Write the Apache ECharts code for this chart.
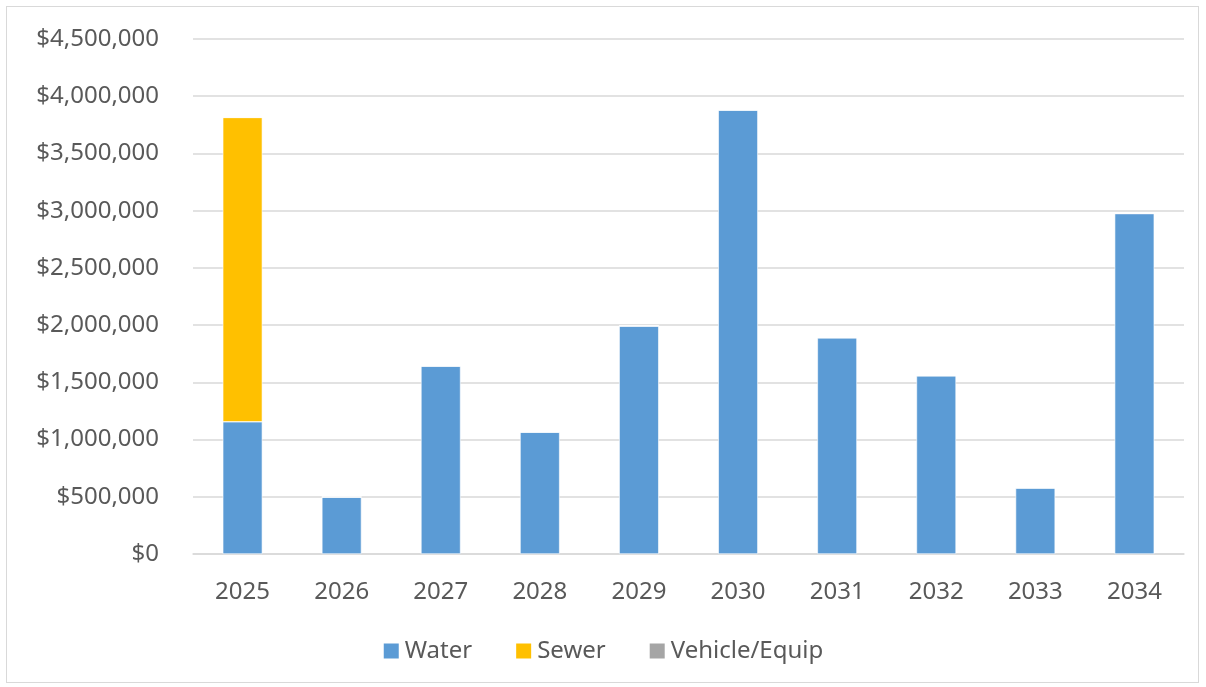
<!DOCTYPE html>
<html lang="en">
  <head>
    <meta charset="UTF-8" />
    <title>Capital Plan by Year</title>
    <style>
      html, body { margin: 0; padding: 0; background: #fff; }
      #main {
        position: absolute;
        left: 6px;
        top: 6px;
        width: 1193px;
        height: 677px;
        border: 1.5px solid #d9d9d9;
        box-sizing: border-box;
      }
    </style>
  </head>
  <body>
    <div id="main"></div>
    <script src="https://cdn.jsdelivr.net/npm/echarts@6/dist/echarts.min.js"></script>
    <script>
      var years = ["2025", "2026", "2027", "2028", "2029", "2030", "2031", "2032", "2033", "2034"];
      var water = [1155000, 498000, 1643000, 1066000, 1993000, 3880000, 1890000, 1558000, 578000, 2975000];
      var sewer = [2660000, 0, 0, 0, 0, 0, 0, 0, 0, 0];
      var vehicle = [0, 0, 0, 0, 0, 0, 0, 0, 0, 0];

      var font = "'Noto Sans', sans-serif";
      var chart = echarts.init(document.getElementById("main"));

      function money(v) {
        return "$" + v.toString().replace(/\B(?=(\d{3})+(?!\d))/g, ",");
      }

      function barSeries(name, data, color) {
        return {
          name: name,
          type: "bar",
          stack: "total",
          data: data,
          barWidth: "40%",
          itemStyle: { color: color, borderColor: "#fff", borderWidth: 0.6 }
        };
      }

      chart.setOption({
        animation: false,
        textStyle: { fontFamily: font },
        grid: { left: 186, right: 14, top: 32, bottom: 128 },
        legend: {
          bottom: 14,
          left: "center",
          itemWidth: 17,
          itemHeight: 17,
          itemGap: 42,
          icon: "rect",
          textStyle: { color: "#595959", fontSize: 24, fontFamily: font },
          data: ["Water", "Sewer", "Vehicle/Equip"]
        },
        xAxis: {
          type: "category",
          data: years,
          axisLine: { lineStyle: { color: "#d9d9d9", width: 1.5 } },
          axisTick: { show: false },
          axisLabel: { color: "#595959", fontSize: 24, margin: 26, fontFamily: font }
        },
        yAxis: {
          type: "value",
          min: 0,
          max: 4500000,
          interval: 500000,
          axisLine: { show: false },
          axisTick: { show: false },
          splitLine: { lineStyle: { color: "#d9d9d9", width: 1.5 } },
          axisLabel: { color: "#595959", fontSize: 24, margin: 34, fontFamily: font, formatter: money }
        },
        series: [
          barSeries("Water", water, "#5b9bd5"),
          barSeries("Sewer", sewer, "#ffc000"),
          barSeries("Vehicle/Equip", vehicle, "#a5a5a5")
        ]
      });
    </script>
  </body>
</html>
